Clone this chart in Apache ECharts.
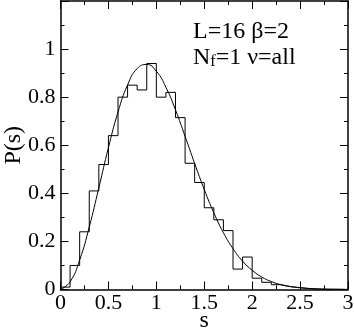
<!DOCTYPE html>
<html>
<head>
<meta charset="utf-8">
<script src="https://cdn.jsdelivr.net/npm/echarts@6/dist/echarts.min.js"></script>
<style>
  html, body { margin: 0; padding: 0; background: #fff; }
  #chart { width: 354px; height: 330px; }
</style>
</head>
<body>
<div id="chart"></div>
<script>
// histogram: left edges of the 0.1 wide bins and their heights
const binEdges = [0, 0.1, 0.2, 0.3, 0.4, 0.5, 0.6, 0.7, 0.8, 0.9,
  1.0, 1.1, 1.2, 1.3, 1.4, 1.5, 1.6, 1.7, 1.8, 1.9,
  2.0, 2.1, 2.2, 2.3, 2.4, 2.5, 2.6, 2.7, 2.8, 2.9]
const histValues = [0.01, 0.10, 0.24, 0.41, 0.52, 0.64, 0.80, 0.85, 0.83, 0.94,
  0.80, 0.82, 0.715, 0.525, 0.445, 0.34, 0.29, 0.245, 0.085, 0.135,
  0.047, 0.03, 0.02, 0.012, 0.008, 0.004, 0.002, 0.001, 0.001, 0]
const histEnd = 3

// smooth curve
const curveS = [0, 0.1, 0.2, 0.3, 0.4, 0.5, 0.6, 0.7, 0.8, 0.9,
  1.0, 1.1, 1.2, 1.3, 1.4, 1.5, 1.6, 1.7, 1.8, 1.9,
  2.0, 2.1, 2.2, 2.3, 2.4, 2.5, 2.6, 2.7, 2.8, 2.9, 3.0]
const curveP = [0, 0.032, 0.123, 0.260, 0.423, 0.590, 0.738, 0.851, 0.919, 0.936,
  0.908, 0.841, 0.747, 0.637, 0.524, 0.416, 0.319, 0.236, 0.170, 0.118,
  0.080, 0.052, 0.033, 0.020, 0.012, 0.007, 0.004, 0.002, 0.001, 0.0006, 0.0003]

const xTicks = ['0', '0.5', '1', '1.5', '2', '2.5', '3']
const yTicks = ['0', '0.2', '0.4', '0.6', '0.8', '1']

const serif = '"Liberation Serif", "Times New Roman", serif'

let histData = binEdges.map((e, i) => [e, histValues[i]])
histData.push([histEnd, 0])
let curveData = curveS.map((s, i) => [s, curveP[i]])

function axisCommon (showLabel) {
  return {
    axisLine: { show: true, onZero: false, lineStyle: { color: '#000', width: 1.5 } },
    axisTick: { show: true, inside: true, length: 8, lineStyle: { color: '#000', width: 1 } },
    minorTick: { show: true, splitNumber: 2, length: 4, lineStyle: { color: '#000', width: 1 } },
    splitLine: { show: false },
    minorSplitLine: { show: false },
    axisLabel: { show: showLabel }
  }
}

let chart = echarts.init(document.getElementById('chart'))
chart.setOption({
  animation: false,
  backgroundColor: '#fff',
  grid: { left: 60.5, right: 6, top: 1, bottom: 40.5, containLabel: false, outerBoundsMode: 'none' },
  xAxis: [
    Object.assign(axisCommon(true), {
      type: 'value', min: 0, max: 3, interval: 0.5, position: 'bottom',
      name: 's', nameLocation: 'middle', nameGap: 19, nameMoveOverlap: false,
      nameTextStyle: { fontFamily: serif, fontSize: 24, color: '#000' },
      axisLabel: {
        show: true, margin: 3, color: '#000', fontFamily: serif, fontSize: 22,
        formatter: v => xTicks[Math.round(v / 0.5)]
      }
    }),
    Object.assign(axisCommon(false), {
      type: 'value', min: 0, max: 3, interval: 0.5, position: 'top'
    })
  ],
  yAxis: [
    Object.assign(axisCommon(true), {
      type: 'value', min: 0, max: 1.2, interval: 0.2, position: 'left',
      name: 'P(s)', nameLocation: 'middle', nameGap: 35, nameMoveOverlap: false,
      nameTextStyle: { fontFamily: serif, fontSize: 24, color: '#000' },
      axisLabel: {
        show: true, margin: 5, color: '#000', fontFamily: serif, fontSize: 22,
        showMaxLabel: false,
        formatter: v => yTicks[Math.round(v / 0.2)] || ''
      }
    }),
    Object.assign(axisCommon(false), {
      type: 'value', min: 0, max: 1.2, interval: 0.2, position: 'right'
    })
  ],
  graphic: [
    {
      type: 'text', left: 193, top: 20,
      style: { text: 'L=16 β=2', font: '24px ' + serif, fill: '#000' }
    },
    {
      type: 'text', left: 193, top: 46,
      style: {
        text: '{n|N}{sub|f}{n|=1 ν=all}',
        rich: {
          n: { fontFamily: serif, fontSize: 24, fill: '#000', verticalAlign: 'bottom' },
          sub: { fontFamily: serif, fontSize: 16, fill: '#000', padding: [8, 0, 0, 0], verticalAlign: 'bottom' }
        }
      }
    }
  ],
  series: [
    {
      type: 'line', step: 'end', data: histData, symbol: 'none',
      lineStyle: { color: '#000', width: 1 }, z: 3
    },
    {
      type: 'line', smooth: true, data: curveData, symbol: 'none',
      lineStyle: { color: '#000', width: 1 }, z: 4
    }
  ]
})
</script>
</body>
</html>
